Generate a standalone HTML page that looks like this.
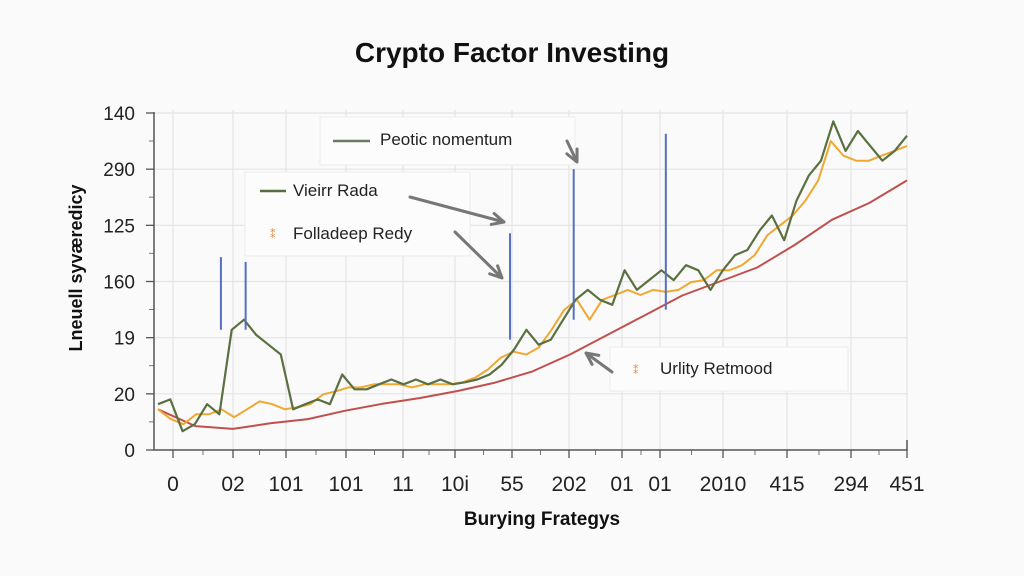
<!DOCTYPE html>
<html><head><meta charset="utf-8">
<style>
html,body{margin:0;padding:0;background:#fafafa;}
svg{display:block;font-family:"Liberation Sans",sans-serif;}
</style></head>
<body>
<svg id="chart" width="1024" height="576" viewBox="0 0 1024 576">
<rect width="1024" height="576" fill="#fafafa"/>
<text x="512" y="62" text-anchor="middle" font-size="28" font-weight="bold" fill="#111">Crypto Factor Investing</text>
<g id="grid"></g>
<g id="axes"></g>
<g id="series"></g>
<text transform="translate(82,268) rotate(-90)" text-anchor="middle" font-size="18" font-weight="bold" fill="#111">Lneuell syværedicy</text>
<text x="542" y="525" text-anchor="middle" font-size="19" font-weight="bold" font-family="Liberation Sans Narrow, Liberation Sans, sans-serif" fill="#111">Burying Frategys</text>
<g id="legends">
  <rect x="320" y="117" width="255" height="48" fill="#fcfcfc" stroke="#ececec"/>
  <line x1="333" y1="141" x2="370" y2="141" stroke="#6b7a60" stroke-width="2.5"/>
  <text x="380" y="145" font-size="17" fill="#222">Peotic nomentum</text>
  <rect x="245" y="172" width="225" height="84" fill="#fcfcfc" stroke="#ececec"/>
  <line x1="260" y1="191" x2="286" y2="191" stroke="#55703e" stroke-width="2.5"/>
  <text x="293" y="196" font-size="17" fill="#222">Vieirr Rada</text>
  <text x="270" y="238" font-size="11" fill="#e08a40">⁑</text>
  <text x="293" y="239" font-size="17" fill="#222">Folladeep Redy</text>
  <rect x="610" y="347" width="238" height="44" fill="#fcfcfc" stroke="#ececec"/>
  <text x="633" y="374" font-size="11" fill="#e08a40">⁑</text>
  <text x="660" y="374" font-size="17" fill="#222">Urlity Retmood</text>
</g>
<g id="arrows"></g>
</svg>
<script>
const yTickLabels = ["0","20","19","160","125","290","140"];
const xTickLabels = ["0","02","101","101","11","10i","55","202","01","01","2010","415","294","451"];
const xTickPos = [173,233,286,346,403,455,512,569,622,660,723,787,851,907];
const greenValues = [16.3,18,6.7,9.2,16.3,12.7,42.8,46.4,41,37.5,34,14.5,16.3,18,16.3,26.9,21.6,21.6,23.4,25.1,23.4,25.1,23.4,25.1,23.4,24.1,25.1,26.9,30.4,35.8,42.8,37.5,39.3,46.4,53.5,57,53.5,51.7,64,57,60.5,64,60.5,65.8,64,57,64,69.4,71.2,78.2,83.5,74.7,88.8,97.7,103,117,106.5,113.6,108.3,103,106.5,111.9];
const orangeValues = [14.5,11,9.2,12.7,12.7,14.5,11.7,14.5,17.3,16.3,14.5,15.2,16.3,19.8,20.9,22.3,22.3,23.4,23.4,23.4,22.3,23.4,23.4,23.4,24.1,25.8,28.7,32.9,35,34,36.5,42.8,49.9,53.5,46.4,53.5,55.2,57,55.2,57,56.3,57,59.8,60.5,64,64,65.8,69.4,76.5,80,83.5,88.8,95.9,110,104.8,103,103,104.8,106.5,108.3];
const redValues = [14.5,8.5,7.5,9.5,11,14,16.5,18.5,21,24,28,34,41,48,55,60,65,73,82,88,96];
const spikeX = [8.4,11.7,47,55.5,67.8];
const spikeTop = [68.7,67,77.2,100,112.6];
const spikeBottom = [42.8,42.8,39.3,46.4,50];

const NS="http://www.w3.org/2000/svg";
const X0=158,X1=907,Y0=450,Y1=113;
function yScale(v){return Y0-(v/120)*(Y0-Y1);}
function xScale(t){return X0+(t/100)*(X1-X0);}
function mk(tag,attrs,parent){const e=document.createElementNS(NS,tag);for(const k in attrs)e.setAttribute(k,attrs[k]);parent.appendChild(e);return e;}
const grid=document.getElementById('grid'),axes=document.getElementById('axes'),series=document.getElementById('series'),arrows=document.getElementById('arrows');

yTickLabels.forEach((lab,i)=>{
  const y=yScale(i*20);
  if(i>0){const g=mk('line',{x1:154,x2:907,y1:y,y2:y,stroke:'#e4e4e4','stroke-width':1.2},grid);
  
  
  const m=mk('line',{x1:149,x2:154,y1:y+28,y2:y+28,stroke:'#777','stroke-width':1},axes);
  
  }
  const tk=mk('line',{x1:146,x2:154,y1:y,y2:y,stroke:'#555','stroke-width':1.3},axes);
  
  
  const t=mk('text',{x:135,y:y+7,'text-anchor':'end','font-size':19,fill:'#222'},axes);
  t.textContent=lab;
  
  
});
xTickPos.forEach((x,i)=>{
  const g=mk('line',{x1:x,x2:x,y1:110,y2:450,stroke:'#e4e4e4','stroke-width':1.2},grid);
  
  
  const tk=mk('line',{x1:x,x2:x,y1:450,y2:458,stroke:'#555','stroke-width':1.3},axes);
  
  
  if(i<xTickPos.length-1){
  const mx=x+(xTickPos[i+1]-x)/2;
  const m=mk('line',{x1:mx,x2:mx,y1:450,y2:455,stroke:'#777','stroke-width':1},axes);
  
  }
  const t=mk('text',{x:x,y:491,'text-anchor':'middle','font-size':21,fill:'#222','font-family':'Liberation Sans Narrow, Liberation Sans, sans-serif'},axes);
  t.textContent=xTickLabels[i];
  
  
});
const ax=mk('path',{d:`M154 112 V450 H907 V440`,fill:'none',stroke:'#555','stroke-width':1.5},axes);



function line(vals,color,w,name){
  const n=vals.length;
  const d=vals.map((v,i)=>(i?'L':'M')+xScale(i/(n-1)*100).toFixed(1)+' '+yScale(v).toFixed(1)).join(' ');
  const p=mk('path',{d:d,fill:'none',stroke:color,'stroke-width':w,'stroke-linejoin':'round'},series);
  
  
}
line(redValues,'#c0504d',2,'series-utility-red');
line(orangeValues,'#f0a830',2,'series-folladeep-orange');
line(greenValues,'#5a7040',2.2,'series-vieirr-green');
spikeX.forEach((sx,i)=>{
  const l=mk('line',{x1:xScale(sx),x2:xScale(sx),y1:yScale(spikeTop[i]),y2:yScale(spikeBottom[i]),stroke:'#5570c0','stroke-width':2},series);
  
  
});
function arrow(x1,y1,x2,y2){
  const a=Math.atan2(y2-y1,x2-x1),h=13;
  const d=`M${x1} ${y1} L${x2} ${y2} M${x2-h*Math.cos(a-0.45)} ${y2-h*Math.sin(a-0.45)} L${x2} ${y2} L${x2-h*Math.cos(a+0.45)} ${y2-h*Math.sin(a+0.45)}`;
  const p=mk('path',{d:d,fill:'none',stroke:'#777','stroke-width':3,'stroke-linecap':'round','stroke-linejoin':'round'},arrows);
  
  
}
arrow(410,197,504,222);
arrow(455,232,502,278);
arrow(567,141,577,162);
arrow(612,372,586,353);
</script>
</body></html>
